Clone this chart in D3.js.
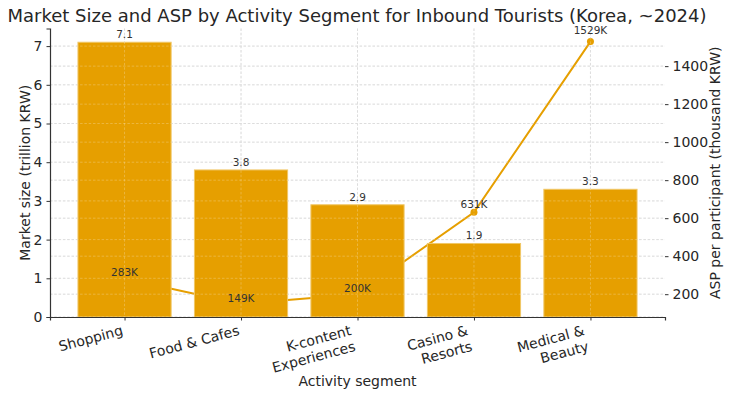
<!DOCTYPE html>
<html>
<head>
<meta charset="utf-8">
<script src="https://cdn.jsdelivr.net/npm/d3@7"></script>
<style>
  body { margin: 0; background: #fff; }
  svg { display: block; font-family: 'DejaVu Sans', sans-serif; }
</style>
</head>
<body>
<div class="chart"></div>
<script>
const WIDTH = 730;
const HEIGHT = 396;
const COLOR = '#E69F00';
const TEXT = '#262626';

const segments = ['Shopping', 'Food & Cafes', 'K-content\nExperiences', 'Casino &\nResorts', 'Medical &\nBeauty'];
const marketSize = [7.1, 3.8, 2.9, 1.9, 3.3];
const asp = [283, 149, 200, 631, 1529];
const leftTicks = [0, 1, 2, 3, 4, 5, 6, 7];
const rightTicks = [200, 400, 600, 800, 1000, 1200, 1400];

const margin = { top: 28.5, right: 65, bottom: 79, left: 50 };
const x0 = margin.left;
const x1 = WIDTH - margin.right;
const yTop = margin.top;
const yBottom = HEIGHT - margin.bottom;

const svg = d3.select('.chart').append('svg')
  .attr('width', WIDTH)
  .attr('height', HEIGHT);

// index positions like matplotlib: -0.64 .. 4.64
const xIdx = d3.scaleLinear().domain([-0.64, 4.64]).range([x0, x1]);
const barW = xIdx(0.8) - xIdx(0);
const yLeft = d3.scaleLinear().domain([0, 7.455]).range([yBottom, yTop]);
const yRight = d3.scaleLinear().domain([80, 1598]).range([yBottom, yTop]);

function drawGrid(stroke, opacity, vertical) {
  const g = svg.append('g')
    .attr('stroke', stroke)
    .attr('stroke-opacity', opacity)
    .attr('stroke-width', 0.8)
    .attr('stroke-dasharray', '2.5,1.8');
  g.selectAll('.gl').data(leftTicks).enter().append('line')
    .attr('x1', x0).attr('x2', x1)
    .attr('y1', (d) => yLeft(d)).attr('y2', (d) => yLeft(d));
  g.selectAll('.gr').data(rightTicks).enter().append('line')
    .attr('x1', x0).attr('x2', x1)
    .attr('y1', (d) => yRight(d)).attr('y2', (d) => yRight(d));
  if (vertical) {
    g.selectAll('.gv').data(segments).enter().append('line')
      .attr('x1', (d, i) => xIdx(i)).attr('x2', (d, i) => xIdx(i))
      .attr('y1', yTop).attr('y2', yBottom);
  }
}

drawGrid('#c8c8c8', 1, true);

// ASP line (behind bars)
const line = d3.line()
  .x((d, i) => xIdx(i))
  .y((d) => yRight(d));
svg.append('path')
  .datum(asp)
  .attr('d', line)
  .attr('fill', 'none')
  .attr('stroke', COLOR)
  .attr('stroke-width', 2);
svg.selectAll('.pt').data(asp).enter().append('circle')
  .attr('cx', (d, i) => xIdx(i))
  .attr('cy', (d) => yRight(d))
  .attr('r', 3.5)
  .attr('fill', COLOR);

// bars
svg.selectAll('.bar').data(marketSize).enter().append('rect')
  .attr('x', (d, i) => xIdx(i) - barW / 2)
  .attr('y', (d) => yLeft(d))
  .attr('width', barW)
  .attr('height', (d) => yLeft(0) - yLeft(d))
  .attr('fill', COLOR)
  .attr('stroke', '#f0c766')
  .attr('stroke-width', 1);

// grid faintly showing over bars
drawGrid('#ffffff', 0.3, true);

// bar value labels
svg.selectAll('.bl').data(marketSize).enter().append('text')
  .attr('x', (d, i) => xIdx(i))
  .attr('y', (d) => yLeft(d) - 4)
  .attr('text-anchor', 'middle')
  .attr('font-size', 10.5)
  .attr('fill', '#333')
  .text((d) => d.toFixed(1));

// ASP labels
svg.selectAll('.al').data(asp).enter().append('text')
  .attr('x', (d, i) => xIdx(i))
  .attr('y', (d) => yRight(d * 1.02 + 30) + 4)
  .attr('text-anchor', 'middle')
  .attr('font-size', 10.5)
  .attr('fill', '#333')
  .text((d) => `${d}K`);

// axes
const leftAxis = svg.append('g')
  .attr('transform', `translate(${x0},0)`)
  .call(d3.axisLeft(yLeft).tickValues(leftTicks).tickSize(3.5).tickPadding(4).tickFormat(d3.format('d')));
const rightAxis = svg.append('g')
  .attr('transform', `translate(${x1},0)`)
  .call(d3.axisRight(yRight).tickValues(rightTicks).tickSize(3.5).tickPadding(4).tickFormat(d3.format('d')));
rightAxis.select('.domain').remove();
const bottomAxis = svg.append('g')
  .attr('transform', `translate(0,${yBottom})`)
  .call(d3.axisBottom(xIdx).tickValues(d3.range(segments.length)).tickSize(3.5).tickFormat(''));

[leftAxis, rightAxis, bottomAxis].forEach((a) => {
  a.selectAll('.domain').attr('stroke', '#333').attr('stroke-width', 1.2);
  a.selectAll('.tick line').attr('stroke', '#333').attr('stroke-width', 1);
  a.selectAll('.tick text').attr('font-size', 14).attr('fill', TEXT).attr('font-family', 'DejaVu Sans');
});

// rotated x tick labels, right-aligned to tick
const svgRect = svg.node().getBoundingClientRect();
segments.forEach((s, i) => {
  const g = svg.append('g').attr('transform', 'rotate(-15)');
  const t = g.append('text')
    .attr('font-size', 14)
    .attr('fill', TEXT)
    .attr('text-anchor', 'end');
  s.split('\n').forEach((ln, k) => {
    t.append('tspan').attr('x', 0).attr('dy', k === 0 ? 0 : 16.5).text(ln);
  });
  const b = g.node().getBoundingClientRect();
  const dx = xIdx(i) - (b.right - svgRect.left);
  const dy = yBottom + 5 - (b.top - svgRect.top);
  g.attr('transform', `translate(${dx},${dy}) rotate(-15)`);
});

// axis titles
svg.append('text')
  .attr('x', (x0 + x1) / 2)
  .attr('y', 386)
  .attr('text-anchor', 'middle')
  .attr('font-size', 14)
  .attr('fill', TEXT)
  .text('Activity segment');

svg.append('text')
  .attr('transform', `translate(30,${(yTop + yBottom) / 2}) rotate(-90)`)
  .attr('text-anchor', 'middle')
  .attr('font-size', 14)
  .attr('fill', TEXT)
  .text('Market size (trillion KRW)');

svg.append('text')
  .attr('transform', `translate(720,${(yTop + yBottom) / 2}) rotate(-90)`)
  .attr('text-anchor', 'middle')
  .attr('font-size', 14)
  .attr('fill', TEXT)
  .text('ASP per participant (thousand KRW)');

// title
svg.append('text')
  .attr('x', 357)
  .attr('y', 22)
  .attr('text-anchor', 'middle')
  .attr('font-size', 18)
  .attr('fill', TEXT)
  .text('Market Size and ASP by Activity Segment for Inbound Tourists (Korea, ~2024)');
</script>
</body>
</html>
